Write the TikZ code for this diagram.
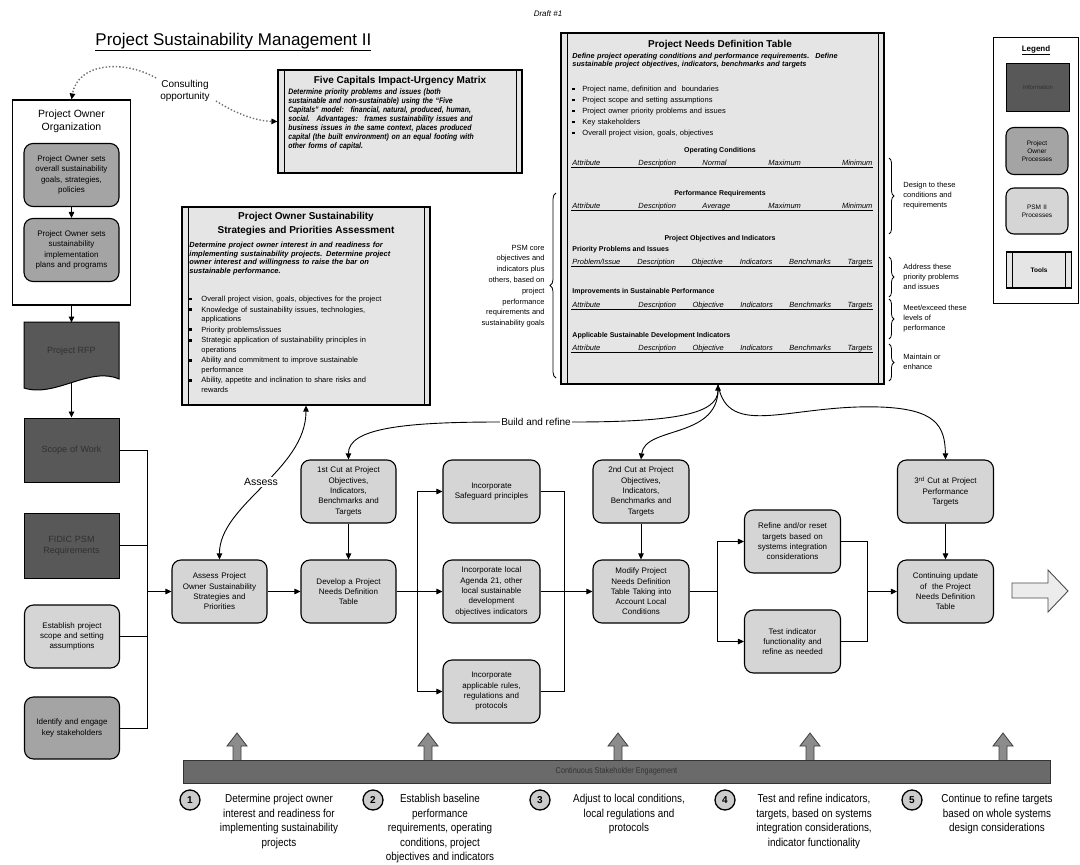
\documentclass[tikz,border=0pt]{standalone}
\usepackage{fontspec}
\setmainfont{Liberation Sans}
\newfontfamily\nar[FakeStretch=0.86]{Liberation Sans}
\usetikzlibrary{arrows.meta,decorations.pathreplacing}
\definecolor{infoc}{HTML}{585858}
\definecolor{infot}{HTML}{303030}
\definecolor{ownc}{HTML}{A4A4A4}
\definecolor{psmc}{HTML}{D5D5D5}
\definecolor{toolc}{HTML}{E5E5E5}
\definecolor{barc}{HTML}{6A6A6A}
\definecolor{upc}{HTML}{8C8C8C}
\definecolor{dotc}{HTML}{707070}
\newcommand\sq{\raisebox{1pt}{\rule{2.6pt}{2.6pt}}}
\newcommand\bul[2][12pt]{\par\hangindent=#1\hangafter=1\noindent\hbox to #1{\sq\hfil}#2}
\newcommand\rowA[5]{\hbox to 300pt{\rlap{#1}\hskip66pt\rlap{#2}\hskip64pt\rlap{#3}\hskip66pt\rlap{#4}\hfil #5}}
\newcommand\rowB[6]{\hbox to 300pt{#1\hfil #2\hfil #3\hfil #4\hfil #5\hfil #6}}
\newcommand\rowC[6]{\hbox to 300pt{\rlap{#1}\hskip66pt #2\hfil #3\hfil #4\hfil #5\hfil #6}}
\begin{document}
\begin{tikzpicture}[x=1pt,y=-1pt,
  line width=0.9pt,
  arr/.style={-{Triangle[length=6pt,width=5.5pt]},line width=0.9pt},
  dbl/.style={{Triangle[length=6pt,width=5.5pt]}-{Triangle[length=6pt,width=5.5pt]},line width=0.9pt},
  ln/.style={line width=0.9pt},
  proc/.style={draw,line width=1.1pt,rounded corners=9pt,fill=psmc,minimum width=95pt,minimum height=63pt,inner sep=1pt,text width=92pt,align=center,font=\fontsize{8}{10.3}\selectfont},
  own/.style={proc,fill=ownc},
  info/.style={draw,line width=1pt,fill=infoc,minimum width=95pt,minimum height=64pt,inner sep=1pt,text width=92pt,text=infot,align=center,font=\fontsize{9}{11}\selectfont},
  tool/.style={draw,line width=1.1pt,fill=toolc,inner sep=0pt,path picture={
     \draw[line width=0.9pt] ([xshift=6pt]path picture bounding box.north west) -- ([xshift=6pt]path picture bounding box.south west)
       ([xshift=-6pt]path picture bounding box.north east) -- ([xshift=-6pt]path picture bounding box.south east);}},
  brc/.style={decorate,decoration={brace,amplitude=5pt},line width=0.8pt},
  lbl/.style={inner sep=0pt,font=\fontsize{7.5}{10}\selectfont,align=left},
  rowtxt/.style={inner sep=0pt,anchor=base west,font=\itshape\fontsize{7.5}{9}\selectfont},
  hd/.style={inner sep=0pt,font=\bfseries\fontsize{7}{9}\selectfont},
  stepc/.style={circle,draw,line width=1.3pt,fill=gray!40,minimum size=20pt,inner sep=0pt,font=\bfseries\fontsize{10}{10}\selectfont},
  sttxt/.style={anchor=north,inner sep=0pt,align=center,font=\nar\fontsize{11.5}{14.5}\selectfont},
  dotl/.style={dotted,line width=1.4pt,dotc,-{Triangle[black,length=6pt,width=5.5pt]}}
]
\fill[white] (0,0) rectangle (1080,865);
\useasboundingbox (0,0) rectangle (1080,865);

% ---------- title ----------
\node[anchor=west,font=\fontsize{17}{19}\selectfont,inner sep=0] (title) at (95,42) {\underline{Project Sustainability Management II}};
\node[font=\itshape\fontsize{8}{9}\selectfont,inner sep=0] (draft) at (548,14) {Draft \#1};

% ---------- project owner organization ----------
\node[draw,line width=1.1pt,minimum width=118pt,minimum height=205pt,inner sep=0] (poo) at (71.5,202.5) {};
\node[align=center,font=\fontsize{10.5}{13}\selectfont,inner sep=0] (poot) at (71.5,121) {Project Owner\\Organization};
\node[own] (po1) at (71.5,175) {Project Owner sets\\overall sustainability\\goals, strategies,\\policies};
\node[own] (po2) at (71.5,250) {Project Owner sets\\sustainability\\implementation\\plans and programs};
\draw[arr] (po1) -- (po2);

% consulting opportunity
\node[align=center,font=\fontsize{10}{11.5}\selectfont,inner sep=1pt] (cons) at (185,91) {Consulting\\opportunity};

% document shape: Project RFP
\path[draw,line width=1pt,fill=infoc] (24,322) -- (119,322) -- (119,379) .. controls (90,366) and (55,398) .. (24,388) -- cycle;
\node[inner sep=0,minimum width=95pt,minimum height=56pt,text=infot,font=\fontsize{9}{11}\selectfont] (rfp) at (71.5,351) {Project RFP};
\coordinate (rfpb) at (71.5,383);
\draw[arr] (poo.south) -- (poo.south |- rfp.north);

\node[info] (scope) at (71.5,450) {Scope of Work};
\node[info,minimum height=65pt] (fidic) at (71.5,545.5) {FIDIC PSM\\Requirements};
\node[proc] (est) at (72,636.5) {Establish project\\scope and setting\\assumptions};
\node[own,minimum height=62pt] (idf) at (72,728) {Identify and engage\\key stakeholders};
\draw[arr] (rfpb) -- (scope);

% ---------- tools ----------
\node[tool,minimum width=244pt,minimum height=103pt] (fc) at (400,121.5) {};
\node[font=\bfseries\fontsize{10}{12}\selectfont,inner sep=0] (fct) at (400,81) {Five Capitals Impact-Urgency Matrix};
\node[anchor=north west,inner sep=0,text width=228pt,align=left,font=\nar\bfseries\itshape\fontsize{8}{9}\selectfont] (fcd) at (288,88) {Determine priority problems and issues (both\\sustainable and non-sustainable) using the “Five\\Capitals” model:~ financial, natural, produced, human,\\social.~ Advantages:~ frames sustainability issues and\\business issues in the same context, places produced\\capital (the built environment) on an equal footing with\\other forms of capital.};

\draw[dotl] (156,78) .. controls (125,60) and (78,62) .. (poo.north);
\draw[dotl] (216,101) .. controls (235,113) and (255,121) .. (fc.west);

\node[tool,minimum width=248pt,minimum height=198pt] (psm) at (306,306) {};
\node[align=center,font=\bfseries\fontsize{10}{14}\selectfont,inner sep=0,anchor=north] (psmt) at (306,212) {Project Owner Sustainability\\Strategies and Priorities Assessment};
\node[anchor=north west,inner sep=0,text width=236pt,align=left,font=\bfseries\itshape\fontsize{7.5}{8.4}\selectfont] (psmd) at (189,242) {Determine project owner interest in and readiness for\\implementing sustainability projects. Determine project\\owner interest and willingness to raise the bar on\\sustainable performance.};
\node[anchor=north west,inner sep=0,text width=238pt,align=left,font=\fontsize{7.5}{9.2}\selectfont] (psmb) at (189,290) {\setlength\parskip{1.6pt}%
\bul{Overall project vision, goals, objectives for the project}%
\bul{Knowledge of sustainability issues, technologies,\newline applications}%
\bul{Priority problems/issues}%
\bul{Strategic application of sustainability principles in\newline operations}%
\bul{Ability and commitment to improve sustainable\newline performance}%
\bul{Ability, appetite and inclination to share risks and\newline rewards}\par};

% ---------- project needs definition table ----------
\node[tool,minimum width=323pt,minimum height=351pt] (ndt) at (722.5,208.5) {};
\node[font=\bfseries\fontsize{10}{12}\selectfont,inner sep=0] (ndtt) at (720,45) {Project Needs Definition Table};
\node[anchor=north west,inner sep=0,text width=304pt,align=left,font=\bfseries\itshape\fontsize{7.3}{8.2}\selectfont] (ndtd) at (572,53) {Define project operating conditions and performance requirements.~ Define\\sustainable project objectives, indicators, benchmarks and targets};
\node[anchor=north west,inner sep=0,text width=300pt,align=left,font=\fontsize{7.5}{9}\selectfont] (ndtb) at (572,80) {\setlength\parskip{2pt}%
\bul[10pt]{Project name, definition and~ boundaries}%
\bul[10pt]{Project scope and setting assumptions}%
\bul[10pt]{Project owner priority problems and issues}%
\bul[10pt]{Key stakeholders}%
\bul[10pt]{Overall project vision, goals, objectives}\par};
\node[hd] (h1) at (720,151) {Operating Conditions};
\node[rowtxt] (r1) at (572,165) {\rowA{Attribute}{Description}{Normal}{Maximum}{Minimum}};
\node[hd] (h2) at (720,194) {Performance Requirements};
\node[rowtxt] (r2) at (572,208) {\rowA{Attribute}{Description}{Average}{Maximum}{Minimum}};
\node[hd] (h3) at (720,239) {Project Objectives and Indicators};
\node[hd,anchor=west] (h4) at (572,250) {Priority Problems and Issues};
\node[rowtxt] (r3) at (572,264) {\rowB{Problem/Issue}{Description}{Objective}{Indicators}{Benchmarks}{Targets}};
\node[hd,anchor=west] (h5) at (572,292) {Improvements in Sustainable Performance};
\node[rowtxt] (r4) at (572,307) {\rowC{Attribute}{Description}{Objective}{Indicators}{Benchmarks}{Targets}};
\node[hd,anchor=west] (h6) at (572,336) {Applicable Sustainable Development Indicators};
\node[rowtxt] (r5) at (572,350) {\rowC{Attribute}{Description}{Objective}{Indicators}{Benchmarks}{Targets}};
\foreach \yy in {167.5,210.5,266.5,309.5,352.5} \draw[line width=1pt] (571,\yy) -- (873,\yy);
\coordinate (nb) at (718,384.5);

% braces
\draw[brc] (889,158) -- (889,234);
\draw[brc] (889,257) -- (889,297);
\draw[brc] (889,299) -- (889,339);
\draw[brc] (889,344) -- (889,381);
\node[lbl,anchor=west] (b1) at (903,196) {Design to these\\conditions and\\requirements};
\node[lbl,anchor=west] (b2) at (903,277) {Address these\\priority problems\\and issues};
\node[lbl,anchor=west] (b3) at (903,319) {Meet/exceed these\\levels of\\performance};
\node[lbl,anchor=west] (b4) at (903,362) {Maintain or\\enhance};
\draw[brc,decoration={brace,amplitude=6pt}] (556,378) -- (556,193);
\node[inner sep=0,anchor=east,align=right,font=\fontsize{7.5}{10.8}\selectfont] (psml) at (545,286) {PSM core\\objectives and\\indicators plus\\others, based on\\project\\performance\\requirements and\\sustainability goals};

% ---------- legend ----------
\node[draw,line width=1pt,minimum width=85pt,minimum height=266pt,inner sep=0] (leg) at (1035.5,170) {};
\node[font=\bfseries\fontsize{8}{9}\selectfont,inner sep=0] (legt) at (1036,50) {\underline{Legend}};
\node[info,minimum width=63pt,minimum height=48pt,text width=60pt,font=\fontsize{6}{7}\selectfont] (li) at (1038,87) {Information};
\node[own,rounded corners=8pt,minimum width=62pt,minimum height=47pt,text width=58pt,font=\fontsize{6.5}{8}\selectfont] (lo) at (1037,151) {Project\\Owner\\Processes};
\node[proc,rounded corners=8pt,minimum width=62pt,minimum height=46pt,text width=58pt,font=\fontsize{6.5}{8}\selectfont] (lp) at (1037,211) {PSM II\\Processes};
\node[tool,minimum width=65pt,minimum height=36pt,font=\bfseries\fontsize{6.5}{8}\selectfont] (lt) at (1039,270) {Tools};

% ---------- process flow ----------
\node[proc] (assess) at (219.5,591.5) {Assess Project\\Owner Sustainability\\Strategies and\\Priorities};
\node[proc] (cut1) at (348.5,491.5) {1st Cut at Project\\Objectives,\\Indicators,\\Benchmarks and\\Targets};
\node[proc] (dev) at (348.5,591.5) {Develop a Project\\Needs Definition\\Table};
\node[proc,minimum width=97pt] (safe) at (491.5,491.5) {Incorporate\\Safeguard principles};
\node[proc,minimum width=97pt] (agenda) at (491.5,591.5) {Incorporate local\\Agenda 21, other\\local sustainable\\development\\objectives indicators};
\node[proc,minimum width=97pt] (rules) at (491.5,691.5) {Incorporate\\applicable rules,\\regulations and\\protocols};
\node[proc,minimum width=96pt] (cut2) at (641,491.5) {2nd Cut at Project\\Objectives,\\Indicators,\\Benchmarks and\\Targets};
\node[proc,minimum width=96pt] (mod) at (641,591.5) {Modify Project\\Needs Definition\\Table Taking into\\Account Local\\Conditions};
\node[proc,minimum width=96pt] (ref) at (792.5,541.5) {Refine and/or reset\\targets based on\\systems integration\\considerations};
\node[proc,minimum width=96pt] (test) at (792.5,641.5) {Test indicator\\functionality and\\refine as needed};
\node[proc,minimum width=96pt] (cut3) at (945.5,491.5) {3\textsuperscript{rd} Cut at Project\\Performance\\Targets};
\node[proc,minimum width=96pt] (cont) at (945.5,591.5) {Continuing update\\of~ the Project\\Needs Definition\\Table};

% left collector
\coordinate (j0) at (147,591.5);
\draw[ln] (scope.east) -| (j0);
\draw[ln] (fidic.east) -| (j0);
\draw[ln] (est.east) -| (j0);
\draw[ln] (idf.east) -| (j0);
\draw[arr] (j0) -- (assess.west);

\draw[arr] (assess) -- (dev);
\draw[arr] (cut1) -- (dev);
\coordinate (j1) at (417,591.5);
\draw[ln] (dev.east) -- (j1);
\draw[arr] (j1) |- (safe.west);
\draw[arr] (j1) -- (agenda.west);
\draw[arr] (j1) |- (rules.west);
\coordinate (j2) at (564,591.5);
\draw[ln] (safe.east) -| (j2);
\draw[ln] (agenda.east) -- (j2);
\draw[ln] (rules.east) -| (j2);
\draw[arr] (j2) -- (mod.west);
\draw[arr] (cut2) -- (mod);
\coordinate (j3) at (717,591.5);
\draw[ln] (mod.east) -- (j3);
\draw[arr] (j3) |- (ref.west);
\draw[arr] (j3) |- (test.west);
\coordinate (j4) at (867,591.5);
\draw[ln] (ref.east) -| (j4);
\draw[ln] (test.east) -| (j4);
\draw[arr] (j4) -- (cont.west);
\draw[arr] (cut3) -- (cont);

% big hollow arrow
\draw[line width=0.9pt,draw=black!70,fill=gray!15] (1012,583) -- (1048,583) -- (1048,570) -- (1068,591) -- (1048,612) -- (1048,598) -- (1012,598) -- cycle;

% assess curve
\draw[dbl] (assess.north) .. controls (219,505) and (306,470) .. (psm.south);
\node[fill=white,inner sep=1pt,font=\fontsize{10.5}{12}\selectfont] (asl) at (261,482) {Assess};

% build and refine
\node[font=\fontsize{10}{12}\selectfont,inner sep=1pt] (br) at (536,422) {Build and refine};
\draw[arr] (br.west) .. controls (405,422) and (348,428) .. (cut1.north);
\draw[arr] (br.east) .. controls (675,422) and (718,414) .. (nb);
\draw[arr] (nb) .. controls (722,440) and (645,425) .. (cut2.north);
\draw[arr] (nb) .. controls (728,440) and (790,404) .. (880,407) .. controls (935,409) and (945,425) .. (cut3.north);

% ---------- stakeholder bar ----------
\foreach \xx in {237,428,618,810,1003}
  \draw[line width=0.8pt,draw=black!75,fill=upc] (\xx-4,760) -- (\xx-4,746) -- (\xx-10,746) -- (\xx,733) -- (\xx+10,746) -- (\xx+4,746) -- (\xx+4,760);
\node[draw=black!80,line width=0.8pt,fill=barc,minimum width=867pt,minimum height=23pt,inner sep=0,text=black!80,font=\nar\fontsize{8.5}{10}\selectfont] (bar) at (616.5,771.5) {Continuous Stakeholder Engagement};

\node[stepc] (s1) at (190,800) {1};
\node[stepc] (s2) at (373,800) {2};
\node[stepc] (s3) at (540,800) {3};
\node[stepc] (s4) at (725,800) {4};
\node[stepc] (s5) at (912,800) {5};
\node[sttxt] (t1) at (279,794) {Determine project owner\\interest and readiness for\\implementing sustainability\\projects};
\node[sttxt] (t2) at (440,794) {Establish baseline\\performance\\requirements, operating\\conditions, project\\objectives and indicators};
\node[sttxt] (t3) at (629,794) {Adjust to local conditions,\\local regulations and\\protocols};
\node[sttxt] (t4) at (814,794) {Test and refine indicators,\\targets, based on systems\\integration considerations,\\indicator functionality};
\node[sttxt] (t5) at (997,794) {Continue to refine targets\\based on whole systems\\design considerations};
\end{tikzpicture}
\end{document}
